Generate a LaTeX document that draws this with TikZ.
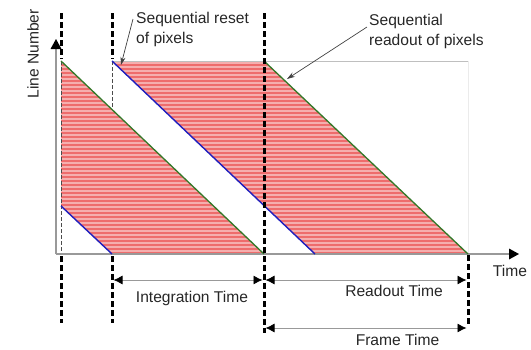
\documentclass[tikz,border=0pt]{standalone}
\usepackage{fontspec}
\setmainfont{Liberation Sans}
\usetikzlibrary{arrows.meta}
\definecolor{redfill}{RGB}{238,108,108}
\definecolor{blueln}{RGB}{30,30,190}
\definecolor{greenln}{RGB}{50,120,40}
\begin{document}
\begin{tikzpicture}[x=1pt,y=-1pt,
  lbl/.style={font=\fontsize{15.6}{20}\selectfont, text=black!85, inner sep=0pt},
  thickdash/.style={line width=3pt, black, dash pattern=on 6pt off 3pt},
  thindash/.style={line width=0.9pt, black!70, dash pattern=on 4pt off 2pt},
  axisln/.style={line width=1.2pt, black!40},
  dimln/.style={line width=0.8pt, black!40, {Latex[length=9pt,width=9pt,black]}-{Latex[length=9pt,width=9pt,black]}},
  callout/.style={line width=0.7pt, black!75, -{Stealth[length=8pt,width=5pt]}},
  blueedge/.style={line width=1.4pt, blueln},
  greenedge/.style={line width=1.3pt, greenln},
  stripe/.style={white, opacity=0.45, line width=1.3pt}
]
\useasboundingbox (0,0) rectangle (531,349);
% key points
\coordinate (O) at (56,254);
\coordinate (Ytip) at (56,39);
\coordinate (Xtip) at (519,254);
\coordinate (A) at (61,61);
\coordinate (B) at (264,254);
\coordinate (C) at (61,206);
\coordinate (D) at (112,254);
\coordinate (E) at (112,61);
\coordinate (F) at (315,254);
\coordinate (G) at (264,61);
\coordinate (H) at (468,254);
\coordinate (HT) at (468,61);
% red regions
\begin{scope}
  \clip (A) -- (B) -- (D) -- (C) -- cycle;
  \fill[redfill] (0,0) rectangle (531,349);
  \foreach \y in {63,67,...,255} \draw[stripe] (0,\y) -- (531,\y);
\end{scope}
\begin{scope}
  \clip (E) -- (G) -- (H) -- (F) -- cycle;
  \fill[redfill] (0,0) rectangle (531,349);
  \foreach \y in {63,67,...,255} \draw[stripe] (0,\y) -- (531,\y);
\end{scope}
% faint frame
\draw[black!25, line width=0.8pt] (E) -- (HT);
\draw[black!8, line width=0.8pt] (HT) -- (H);
% thin dashed
\coordinate (d1a) at (61,61);
\coordinate (d1b) at (61,254);
\coordinate (d2a) at (112,61);
\coordinate (d2b) at (112,108);
\draw[thindash] (d1a) -- (d1b);
\draw[thindash] (d2a) -- (d2b);
% axes
\draw[axisln] (O) -- (56,48);
\draw[axisln] (O) -- (511,254);
\fill[black] (Ytip) -- (50.5,49) -- (61.5,49) -- cycle;
\fill[black] (Xtip) -- (509,248.5) -- (509,259.5) -- cycle;
% edges
\draw[greenedge] (A) -- (B);
\draw[greenedge] (G) -- (H);
\draw[blueedge] (C) -- (D);
\draw[blueedge] (E) -- (F);
% thick dashed markers
\coordinate (t1a) at (61,13);  \coordinate (t1b) at (61,59);
\coordinate (b1a) at (61,256); \coordinate (b1b) at (61,323);
\coordinate (t2a) at (112,13); \coordinate (t2b) at (112,59);
\coordinate (b2a) at (112,256);\coordinate (b2b) at (112,323);
\coordinate (t3a) at (264,13); \coordinate (t3b) at (264,333);
\coordinate (t4a) at (468,255);\coordinate (t4b) at (468,324);
\draw[thickdash] (t1a) -- (t1b);
\draw[thickdash] (b1a) -- (b1b);
\draw[thickdash] (t2a) -- (t2b);
\draw[thickdash] (b2a) -- (b2b);
\draw[thickdash] (t3a) -- (t3b);
\draw[thickdash] (t4a) -- (t4b);
% dimension arrows
\coordinate (i1) at (113.5,280); \coordinate (i2) at (262.5,280);
\coordinate (r1) at (265.5,280); \coordinate (r2) at (466.5,280);
\coordinate (f1) at (265.5,328); \coordinate (f2) at (466.5,328);
\draw[dimln] (i1) -- (i2);
\draw[dimln] (r1) -- (r2);
\draw[dimln] (f1) -- (f2);
% labels
\node[lbl, rotate=90] (ylab) at (33,54) {Line Number};
\node[lbl, anchor=base] (xlab) at (510,276) {Time};
\node[lbl, anchor=base] (intlab) at (192,302) {Integration Time};
\node[lbl, anchor=base] (readlab) at (394,296.5) {Readout Time};
\node[lbl, anchor=base] (framelab) at (397.5,345) {Frame Time};
\node[lbl, anchor=north west, align=left] (resetlab) at (136,12) {Sequential reset\\of pixels};
\node[lbl, anchor=north west, align=left] (readoutlab) at (369,14) {Sequential\\readout of pixels};
% callouts
\coordinate (rs1) at (133,19);  \coordinate (rs2) at (121,65);
\coordinate (ro1) at (367,27);  \coordinate (ro2) at (287,79);
\draw[callout] (rs1) -- (rs2);
\draw[callout] (ro1) -- (ro2);
\end{tikzpicture}
\end{document}
